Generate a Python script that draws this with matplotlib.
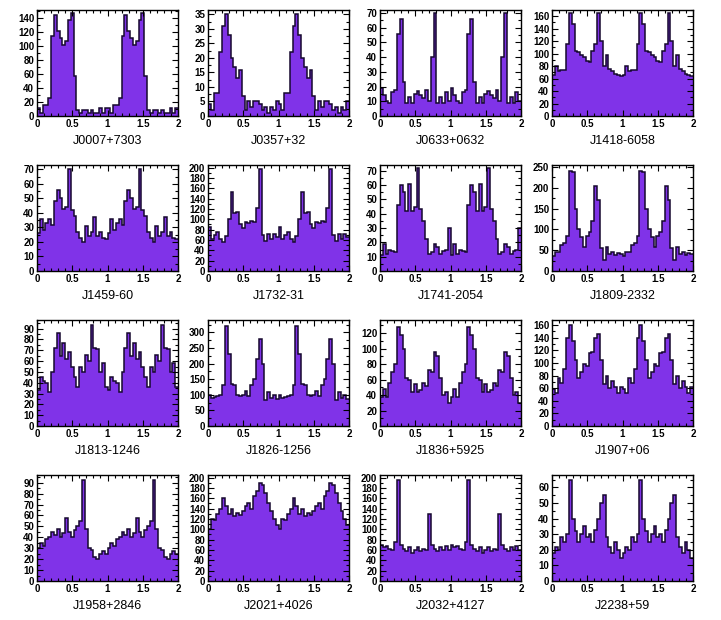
import numpy as np
import matplotlib
matplotlib.use("Agg")
import matplotlib.pyplot as plt
from matplotlib.ticker import MultipleLocator, AutoMinorLocator, FuncFormatter

# counts for one rotation (25 phase bins); the plot shows two rotations
names = ["J0007+7303", "J0357+32", "J0633+0632", "J1418-6058",
         "J1459-60", "J1732-31", "J1741-2054", "J1809-2332",
         "J1813-1246", "J1826-1256", "J1836+5925", "J1907+06",
         "J1958+2846", "J2021+4026", "J2032+4127", "J2238+59"]

j0007 = [12, 5, 16, 16, 26, 115, 145, 122, 112, 102, 108, 138, 147,
         58, 8, 5, 8, 8, 5, 8, 5, 5, 12, 5, 12]
j0357 = [4, 2, 8, 8, 22, 31, 35, 28, 20, 17, 13, 16, 7,
         2, 5, 3, 5, 5, 4, 2, 3, 1, 3, 2, 5]
j0633 = [19, 14, 10, 9, 16, 18, 56, 66, 23, 9, 13, 9, 15,
         17, 14, 12, 18, 10, 40, 70, 9, 13, 9, 16, 10]
j1418 = [65, 80, 72, 74, 73, 115, 165, 148, 105, 102, 98, 95, 88,
         86, 105, 115, 165, 120, 80, 98, 76, 72, 68, 66, 64]
j1459 = [26, 36, 28, 33, 36, 32, 48, 56, 50, 43, 44, 70, 42,
         38, 27, 23, 20, 31, 24, 27, 37, 24, 27, 23, 22]
j1732 = [85, 62, 70, 75, 62, 56, 68, 100, 152, 112, 115, 90, 84,
         95, 92, 96, 95, 122, 198, 70, 58, 72, 62, 72, 65]
j1741 = [11, 19, 12, 15, 14, 13, 46, 60, 55, 42, 61, 42, 45,
         72, 43, 35, 22, 12, 13, 19, 17, 12, 14, 15, 30]
j1809 = [36, 45, 45, 62, 68, 85, 240, 238, 150, 100, 82, 58, 85,
         95, 120, 205, 170, 55, 26, 57, 42, 46, 38, 44, 40]
j1813 = [33, 45, 42, 40, 31, 50, 72, 86, 65, 77, 62, 68, 55,
         45, 36, 55, 50, 66, 60, 93, 72, 71, 50, 58, 36]
j1826 = [100, 90, 92, 95, 100, 130, 320, 232, 135, 130, 98, 96, 98,
         112, 96, 130, 150, 215, 278, 200, 82, 108, 90, 100, 88]
j1836 = [38, 48, 38, 56, 70, 80, 128, 118, 100, 62, 60, 44, 54,
         44, 46, 55, 52, 72, 70, 95, 90, 62, 40, 44, 30]
j1907 = [58, 52, 76, 68, 90, 140, 160, 135, 105, 76, 85, 98, 95,
         115, 118, 140, 146, 105, 66, 80, 60, 72, 62, 52, 62]
j1958 = [30, 35, 32, 38, 40, 45, 42, 48, 40, 44, 58, 45, 40,
         47, 50, 55, 92, 48, 30, 28, 22, 20, 25, 27, 25]
j2021 = [100, 120, 118, 130, 140, 160, 145, 130, 140, 125, 132, 128, 135,
         145, 150, 140, 165, 175, 190, 185, 170, 150, 135, 120, 108]
j2032 = [70, 65, 68, 62, 60, 75, 195, 70, 62, 58, 65, 55, 60,
         66, 58, 62, 60, 130, 70, 62, 58, 65, 60, 68, 60]
j2238 = [18, 22, 20, 28, 25, 30, 65, 40, 32, 25, 30, 35, 28,
         30, 25, 33, 40, 50, 55, 28, 22, 18, 25, 20, 15]

profiles = [j0007, j0357, j0633, j1418, j1459, j1732, j1741, j1809,
            j1813, j1826, j1836, j1907, j1958, j2021, j2032, j2238]
ysteps = [20, 5, 10, 20, 10, 20, 10, 50, 10, 50, 20, 20, 10, 20, 20, 10]
ymaxes = [152, 36.5, 72, 170, 73, 205, 74, 255,
          98, 340, 137, 168, 97, 205, 205, 68]

W, H = 721, 620
fig = plt.figure(figsize=(W / 100, H / 100), dpi=100)

lefts = [37, 208, 380, 552]
tops = [10, 165, 320, 475]
aw, ah = 141, 106

fill_col = "#8033e8"
edge_col = "#16082e"
fmt = FuncFormatter(lambda v, p: "%g" % v)

for i, (name, prof, step, ymax) in enumerate(zip(names, profiles,
                                                 ysteps, ymaxes)):
    r, c = divmod(i, 4)
    ax = fig.add_axes([lefts[c] / W, 1 - (tops[r] + ah) / H, aw / W, ah / H])
    counts = np.array(prof + prof)
    edges = np.linspace(0, 2, len(counts) + 1)
    ax.stairs(counts, edges, fill=True, color=fill_col, lw=0)
    ax.stairs(counts, edges, color=edge_col, lw=1.1, baseline=None)
    ax.set_xlim(0, 2)
    ax.set_ylim(0, ymax)
    ax.xaxis.set_major_locator(MultipleLocator(0.5))
    ax.xaxis.set_minor_locator(AutoMinorLocator(5))
    ax.yaxis.set_major_locator(MultipleLocator(step))
    ax.yaxis.set_minor_locator(AutoMinorLocator(2))
    ax.xaxis.set_major_formatter(fmt)
    ax.yaxis.set_major_formatter(fmt)
    ax.tick_params(which="both", direction="in", top=True, right=True,
                   width=0.8, pad=2)
    ax.tick_params(which="major", length=4)
    ax.tick_params(which="minor", length=2)
    for lab in ax.get_xticklabels() + ax.get_yticklabels():
        lab.set_fontsize(7)
        lab.set_fontweight("bold")
        lab.set_family("Liberation Sans")
    for sp in ax.spines.values():
        sp.set_linewidth(1.0)
        sp.set_color("black")
    ax.text(0.5, -0.235, name, transform=ax.transAxes, ha="center",
            va="center", fontsize=9, family="Liberation Sans")

fig.savefig("out.png", dpi=100)
